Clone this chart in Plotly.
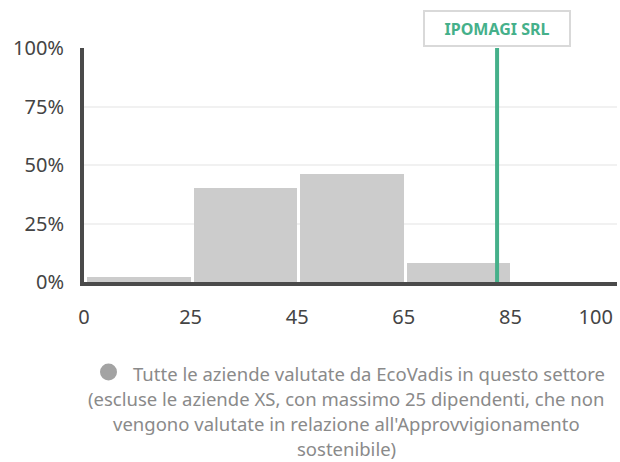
import plotly.graph_objects as go

# ---- data ----
bin_edges = [0, 25, 45, 65, 85, 100]
edge_labels = ["0", "25", "45", "65", "85", "100"]
bin_share = [2.3, 40, 46, 8, 0]          # % of companies per score bin
company_name = "IPOMAGI SRL"
company_score = 82.5
legend_lines = [
    "Tutte le aziende valutate da EcoVadis in questo settore",
    "(escluse le aziende XS, con massimo 25 dipendenti, che non",
    "vengono valutate in relazione all'Approvvigionamento",
    "sostenibile)",
]
y_ticks = [0, 25, 50, 75, 100]
y_tick_text = ["0%", "25%", "50%", "75%", "100%"]

FONT = "Noto Sans"
GREEN = "#45b08a"
AXIS = "#4a4a4a"

W, H = 620, 462
ML, MR, MT, MB = 84, 3, 48, 180
PLOT_W = W - ML - MR
PLOT_H = H - MT - MB


def score_to_index(s):
    # equal-width category bins: map score piecewise onto bin index axis
    for i in range(len(bin_edges) - 1):
        a, b = bin_edges[i], bin_edges[i + 1]
        if a <= s <= b:
            return i + (s - a) / (b - a)
    return len(bin_edges) - 1


def paper_x(px):
    return (px - ML) / PLOT_W


def paper_y(py):
    return -(py - (H - MB)) / PLOT_H


n_bins = len(bin_share)
bar_x = [i + 0.5 for i in range(n_bins)]

fig = go.Figure()
fig.add_trace(go.Bar(
    x=bar_x, y=bin_share,
    width=0.97, offset=-0.47,
    marker=dict(color="#cccccc", line=dict(width=0)),
    hoverinfo="skip", showlegend=False,
))

pos = score_to_index(company_score)
fig.add_shape(type="line", xref="x", yref="y",
              x0=pos, x1=pos, y0=0, y1=100,
              line=dict(color=GREEN, width=4), layer="above")

fig.add_annotation(
    x=pos, y=100, xref="x", yref="y",
    xanchor="center", yanchor="bottom", yshift=1,
    text="<b>" + company_name + "</b>", showarrow=False,
    font=dict(family=FONT, size=16, color=GREEN),
    bgcolor="white", bordercolor="#d9d9d9", borderwidth=2, borderpad=0,
    width=144, height=33,
)

# legend (series marker + wrapped, centred description)
LEG_FONT = dict(family=FONT, size=18.5, color="#8a8a8a")
line_y = [373, 398, 423, 448]
for i, (txt, py) in enumerate(zip(legend_lines, line_y)):
    if i == 0:
        fig.add_annotation(
            x=paper_x(131), y=paper_y(py), xref="paper", yref="paper",
            xanchor="left", yanchor="middle", align="left",
            text=txt, showarrow=False, font=LEG_FONT,
        )
    else:
        fig.add_annotation(
            x=paper_x(346), y=paper_y(py), xref="paper", yref="paper",
            xanchor="center", yanchor="middle", align="center",
            text=txt, showarrow=False, font=LEG_FONT,
        )
fig.add_shape(type="circle", xref="paper", yref="paper",
              xsizemode="pixel", ysizemode="pixel",
              xanchor=paper_x(108.5), yanchor=paper_y(372),
              x0=-8.5, x1=8.5, y0=-8.5, y1=8.5,
              fillcolor="#a3a3a3", line=dict(width=0))

tick_pos = [float(i) for i in range(len(edge_labels))]
tick_pos[-1] = n_bins - 0.2

fig.update_layout(
    width=W, height=H,
    margin=dict(l=ML, r=MR, t=MT, b=MB),
    paper_bgcolor="white", plot_bgcolor="white",
    font=dict(family=FONT, size=20, color="#444444"),
    bargap=0,
    xaxis=dict(
        range=[0, n_bins], tickvals=tick_pos, ticktext=edge_labels,
        showgrid=False, zeroline=False, showline=True,
        linecolor=AXIS, linewidth=4, ticks="",
        ticklabelstandoff=14, fixedrange=True,
    ),
    yaxis=dict(
        range=[0, 100], tickvals=y_ticks, ticktext=y_tick_text,
        showgrid=True, gridcolor="#f1f1f1", gridwidth=2,
        zeroline=False, showline=True, linecolor=AXIS, linewidth=4,
        ticks="", ticklabelstandoff=12, fixedrange=True,
    ),
)

fig.write_html(
    "out.html",
    config={"displayModeBar": False},
    post_script="document.body.style.margin='0';document.body.style.overflow='hidden';",
)
